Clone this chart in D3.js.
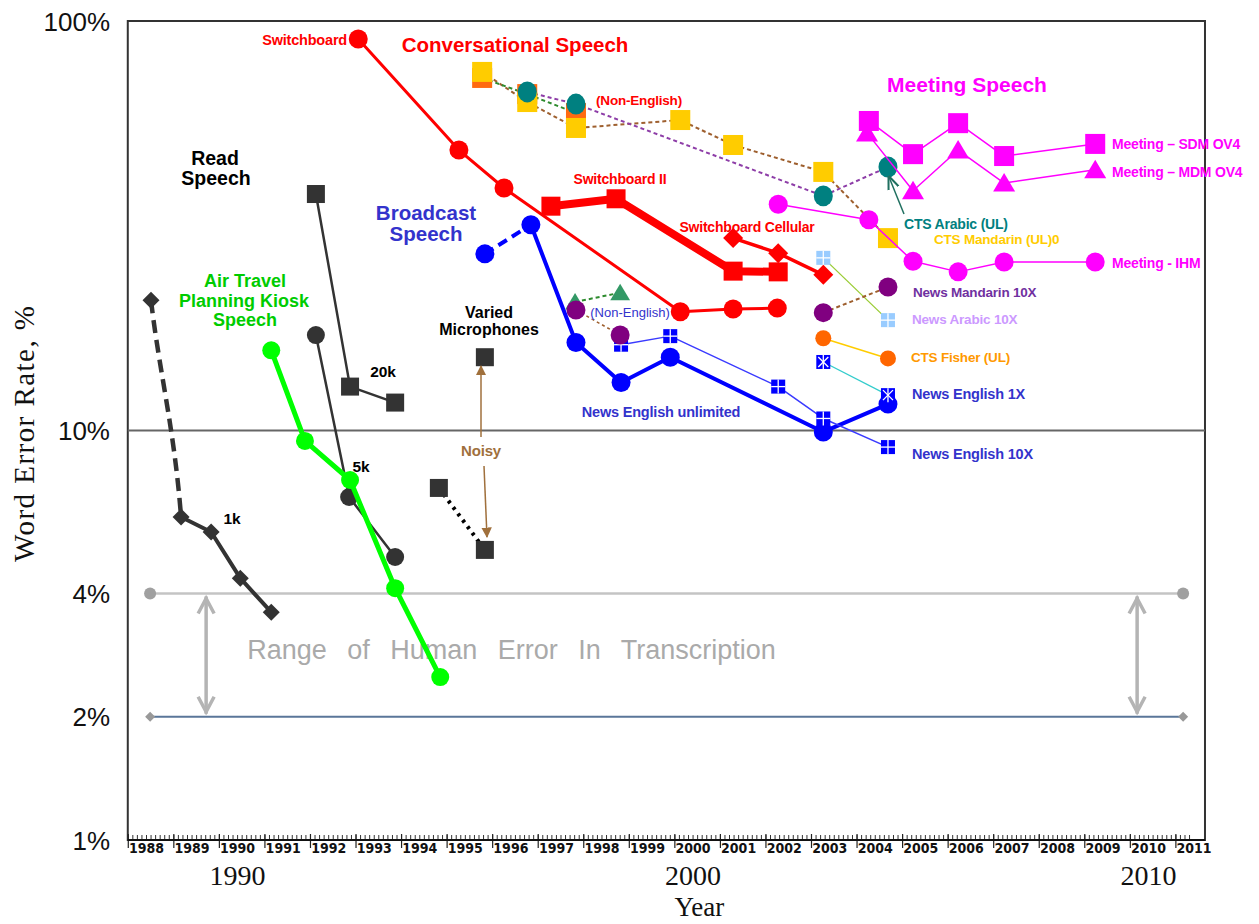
<!DOCTYPE html>
<html><head><meta charset="utf-8">
<script src="https://cdn.jsdelivr.net/npm/d3@7"></script>
<style>
body{margin:0;background:#fff}
svg{display:block}
.lbl{font-family:"Liberation Sans",Arial,sans-serif;font-weight:bold}
</style>
</head><body>
<svg id="c" width="1259" height="924"></svg>
<script>
// ================= DATA (year, word error rate %) =================
const yearLabels = d3.range(1988, 2012);
const bigYearLabels = [1990, 2000, 2010];
const yTickValues = [1, 2, 4, 10, 100];
const humanErrorRange = [2, 4];

// Read speech
const read1k = [[1988.11,20.8],[1988.77,6.15],[1989.43,5.65],[1990.07,4.36],[1990.75,3.6]];
const read5k = [[1991.73,17.1],[1992.46,6.88],[1993.47,4.91]];
const read20k = [[1991.73,37.8],[1992.48,12.8],[1993.47,11.7]];
const variedMic = [[1995.44,15.1]];
const noisy = [[1994.43,7.24],[1995.44,5.11]];
// Air travel planning kiosk
const atis = [[1990.75,15.7],[1991.49,9.43],[1992.48,7.57],[1993.47,4.12],[1994.46,2.5]];
// Conversational speech
const switchboard = [[1992.66,90.4],[1994.87,48.4],[1995.86,39.1],[1999.73,19.5],[2000.89,19.8],[2001.86,19.9]];
const switchboard2 = [[1996.89,35.3],[1998.32,36.8],[2000.89,24.5],[2001.88,24.4]];
const swbCellular = [[2000.89,29.5],[2001.88,27.1],[2002.87,24.0]];
const ctsYellow = [[1995.38,75.1],[1996.37,63.4],[1997.44,54.8],[1999.73,57.3],[2000.89,49.8],[2002.87,42.8],[2004.29,29.5]];
const ctsOrange = [[1995.38,72.6],[1996.37,66.3],[1997.44,59.6]];
const ctsTeal = [[1996.37,67.1],[1997.44,62.7],[2002.87,37.4],[2004.29,44.0]];
// Broadcast speech
const newsEngUnlimDashed = [[1995.44,27.0],[1996.45,31.8]];
const newsEngUnlim = [[1996.45,31.8],[1997.44,16.4],[1998.43,13.1],[1999.51,15.1],[2002.87,9.92],[2004.29,11.6]];
const newsEng10x = [[1998.43,16.2],[1999.51,17.0],[2001.88,12.8],[2002.87,10.7],[2004.29,9.11]];
const newsEng1x = [[2002.87,14.7],[2004.29,12.2]];
const ctsFisher = [[2002.87,16.8],[2004.29,15.0]];
const newsArabic10x = [[2002.87,26.4],[2004.29,18.6]];
const newsMandarin10x = [[2002.87,19.4],[2004.29,22.4]];
const bnNonEngPurple = [[1997.44,19.7],[1998.41,17.1]];
const bnNonEngGreen = [[1997.42,20.6],[1998.41,21.7]];
// Meeting speech
const meetingSDM = [[2003.87,57.0],[2004.84,47.3],[2005.83,56.3],[2006.84,46.8],[2008.84,50.1]];
const meetingMDM = [[2003.83,53.3],[2004.84,38.5],[2005.83,48.4],[2006.84,40.2],[2008.84,43.3]];
const meetingIHM = [[2001.88,35.7],[2003.87,32.7],[2004.84,25.9],[2005.83,24.4],[2006.84,25.8],[2008.84,25.8]];

// ================= CHART =================
const svg = d3.select('#c');
const x = d3.scaleLinear().domain([1988, 2011]).range([146, 1193.6]);
const y = d3.scaleLog().domain([1, 100]).range([840, 21]);
const X0 = x(1987.6), X1 = x(2011.25), YT = y(100), YB = y(1);
const line = d3.line().x(d => x(d[0])).y(d => y(d[1]));

// frame
svg.append('rect').attr('x', X0).attr('y', YT).attr('width', X1 - X0).attr('height', YB - YT)
  .attr('fill', 'none').attr('stroke', '#333').attr('stroke-width', 2);
// 10% line
svg.append('line').attr('x1', X0).attr('x2', X1).attr('y1', y(10)).attr('y2', y(10))
  .attr('stroke', '#666').attr('stroke-width', 2);

// Human error range
const hx0 = x(1988.09), hx1 = x(2010.77);
svg.append('line').attr('x1', hx0).attr('x2', hx1).attr('y1', y(humanErrorRange[1])).attr('y2', y(humanErrorRange[1]))
  .attr('stroke', '#c4c4c4').attr('stroke-width', 2.5);
svg.append('line').attr('x1', hx0).attr('x2', hx1).attr('y1', y(humanErrorRange[0])).attr('y2', y(humanErrorRange[0]))
  .attr('stroke', '#5a7699').attr('stroke-width', 2);
[hx0, hx1].forEach(px => {
  svg.append('circle').attr('cx', px).attr('cy', y(humanErrorRange[1])).attr('r', 6).attr('fill', '#a0a0a0');
  const cy = y(humanErrorRange[0]);
  svg.append('path').attr('d', `M${px},${cy-5}L${px+5},${cy}L${px},${cy+5}L${px-5},${cy}Z`).attr('fill', '#999');
});
[x(1989.32), x(2009.76)].forEach(px => {
  const a = y(humanErrorRange[1]) + 3, b = y(humanErrorRange[0]) - 3;
  const g = svg.append('g').attr('stroke', '#b4b4b4').attr('stroke-width', 3.5).attr('fill', 'none');
  g.append('line').attr('x1', px).attr('x2', px).attr('y1', a).attr('y2', b);
  g.append('path').attr('d', `M${px-8},${a+17}L${px},${a+2}L${px+8},${a+17}`);
  g.append('path').attr('d', `M${px-8},${b-17}L${px},${b-2}L${px+8},${b-17}`);
});
svg.append('text').attr('x', 511.5).attr('y', 650).attr('text-anchor', 'middle').attr('dominant-baseline', 'central')
  .attr('font-family', '"Liberation Sans",Arial,sans-serif').attr('font-size', 27).attr('word-spacing', 13)
  .attr('fill', '#aaaaaa').text('Range of Human Error In Transcription');

// ---- axes ----
const minor = d3.range(0, 234).map(i => 1987.6 + i * 0.1).filter(v => v < 2011.2);
const major = yearLabels.map(v => v - 0.4);
const axG = svg.append('g').attr('transform', `translate(0,${YB})`);
axG.append('g').call(d3.axisBottom(x).tickValues(minor).tickSize(-5).tickFormat(''))
  .call(g => g.select('.domain').remove())
  .call(g => g.selectAll('line').attr('stroke', '#333').attr('stroke-width', 1));
axG.append('g').call(d3.axisBottom(x).tickValues(major).tickSize(8).tickFormat(''))
  .call(g => g.select('.domain').remove())
  .call(g => g.selectAll('line').attr('stroke', '#222').attr('stroke-width', 1.2).attr('y1', -6));
axG.append('line').attr('x1', X0).attr('x2', X1).attr('stroke', '#111').attr('stroke-width', 2);
axG.append('g').call(d3.axisBottom(x).tickValues(yearLabels).tickSize(0).tickPadding(3).tickFormat(d3.format('d')))
  .call(g => g.select('.domain').remove())
  .call(g => g.selectAll('text').attr('font-family', '"Liberation Sans Narrow","Arial Narrow","DejaVu Sans Condensed",sans-serif')
    .attr('font-stretch', 'condensed').attr('font-weight', 'bold').attr('font-size', 14).attr('fill', '#111'));
// Big serif year labels
svg.append('g').attr('transform', `translate(0,${YB + 25})`)
  .call(d3.axisBottom(x).tickValues(bigYearLabels).tickSize(0).tickPadding(0).tickFormat(d3.format('d')))
  .call(g => g.select('.domain').remove())
  .call(g => g.selectAll('text').attr('font-family', '"Liberation Serif","Times New Roman",serif')
    .attr('font-size', 28).attr('fill', '#111'));
svg.append('text').attr('x', x(2000.15)).attr('y', 907).attr('text-anchor', 'middle').attr('dominant-baseline', 'central')
  .attr('font-family', '"Liberation Serif",serif').attr('font-size', 27).attr('fill', '#111').text('Year');

// y axis
svg.append('g').attr('transform', 'translate(110,0)')
  .call(d3.axisLeft(y).tickValues(yTickValues).tickSize(0).tickPadding(0).tickFormat(d => d + '%'))
  .call(g => g.select('.domain').remove())
  .call(g => g.selectAll('text').attr('font-family', '"Liberation Sans",Arial,sans-serif').attr('font-size', 26)
    .attr('fill', '#111').attr('dy', '0.35em'));
svg.append('text').attr('transform', 'translate(24,434) rotate(-90)').attr('text-anchor', 'middle')
  .attr('dominant-baseline', 'central').attr('font-family', '"Liberation Serif",serif').attr('font-size', 29)
  .attr('textLength', 256).attr('lengthAdjust', 'spacing').attr('fill', '#111').text('Word Error Rate, %');

// ---- marker helper ----
function marker(g, type, cx, cy, s, fill) {
  if (type === 'circle') g.append('circle').attr('cx', cx).attr('cy', cy).attr('r', s).attr('fill', fill);
  else if (type === 'ellipse') g.append('ellipse').attr('cx', cx).attr('cy', cy).attr('rx', s).attr('ry', s * 1.1).attr('fill', fill);
  else if (type === 'square') g.append('rect').attr('x', cx - s).attr('y', cy - s).attr('width', 2 * s).attr('height', 2 * s).attr('fill', fill);
  else if (type === 'diamond') g.append('path').attr('d', `M${cx},${cy-s}L${cx+s},${cy}L${cx},${cy+s}L${cx-s},${cy}Z`).attr('fill', fill);
  else if (type === 'triangle') g.append('path').attr('d', `M${cx},${cy-s}L${cx+s*1.1},${cy+s*0.85}L${cx-s*1.1},${cy+s*0.85}Z`).attr('fill', fill);
  else if (type === 'grid' || type === 'xgrid') {
    g.append('rect').attr('x', cx - s).attr('y', cy - s).attr('width', 2 * s).attr('height', 2 * s).attr('fill', fill);
    const w = g.append('g').attr('stroke', '#fff').attr('stroke-width', 1.3);
    w.append('line').attr('x1', cx).attr('x2', cx).attr('y1', cy - s).attr('y2', cy + s);
    if (type === 'grid') w.append('line').attr('x1', cx - s).attr('x2', cx + s).attr('y1', cy).attr('y2', cy);
    else {
      w.append('line').attr('x1', cx - s + 2).attr('x2', cx + s - 2).attr('y1', cy - s + 2).attr('y2', cy + s - 2);
      w.append('line').attr('x1', cx - s + 2).attr('x2', cx + s - 2).attr('y1', cy + s - 2).attr('y2', cy - s + 2);
    }
  }
}
function series(data, o) {
  const g = svg.append('g');
  if (o.stroke && data.length > 1) {
    const p = g.append('path').attr('d', line(data)).attr('fill', 'none').attr('stroke', o.stroke)
      .attr('stroke-width', o.width || 2).attr('stroke-linejoin', 'round');
    if (o.dash) p.attr('stroke-dasharray', o.dash);
    if (o.cap) p.attr('stroke-linecap', o.cap);
  }
  if (o.marker) data.forEach(d => marker(g, o.marker, x(d[0]), y(d[1]), o.size, o.fill));
}

// ---- Read speech ----
{
  const p0 = [x(read1k[0][0]), y(read1k[0][1])], p1 = [x(read1k[1][0]), y(read1k[1][1])];
  svg.append('path').attr('d', `M${p0[0]},${p0[1]}C${p0[0]+8},${p0[1]+70} ${p1[0]-7},${p1[1]-90} ${p1[0]},${p1[1]}`)
    .attr('fill', 'none').attr('stroke', '#333').attr('stroke-width', 4.5).attr('stroke-dasharray', '13,7');
}
series(read1k.slice(1), {stroke: '#333', width: 4, marker: 'diamond', size: 8.5, fill: '#333'});
marker(svg, 'diamond', x(read1k[0][0]), y(read1k[0][1]), 8.5, '#333');
series(read5k, {stroke: '#333', width: 2.5, marker: 'circle', size: 9, fill: '#333'});
series(read20k, {stroke: '#333', width: 2.5, marker: 'square', size: 9, fill: '#333'});
series(variedMic, {marker: 'square', size: 9, fill: '#333'});
series(noisy, {stroke: '#000', width: 4, dash: '3,5', marker: 'square', size: 9, fill: '#333'});
series(atis, {stroke: '#00ff00', width: 5, marker: 'circle', size: 9, fill: '#00ff00'});

// ---- Conversational ----
series(switchboard, {stroke: '#ff0000', width: 3, marker: 'circle', size: 9.5, fill: '#ff0000'});
series(switchboard2, {stroke: '#ff0000', width: 8, marker: 'square', size: 9.5, fill: '#ff0000'});
series(swbCellular, {stroke: '#ff0000', width: 3.5, marker: 'diamond', size: 10, fill: '#ff0000'});
series(ctsYellow, {stroke: '#9e5f2e', width: 2, dash: '4,3'});
series(ctsOrange, {stroke: '#2e8b2e', width: 2, dash: '4,3'});
series(ctsTeal, {stroke: '#8e3ea8', width: 2, dash: '4,3'});
series(ctsOrange, {marker: 'square', size: 10, fill: '#ff6a10'});
series(ctsYellow, {marker: 'square', size: 10, fill: '#ffcc00'});
series(ctsTeal, {marker: 'ellipse', size: 9.5, fill: '#008080'});

// ---- Broadcast ----
series(newsEngUnlimDashed, {stroke: '#0000ff', width: 4, dash: '10,6'});
series(newsEngUnlim, {stroke: '#0000ff', width: 4, marker: 'circle', size: 9.5, fill: '#0000ff'});
series(newsEngUnlimDashed.slice(0, 1), {marker: 'circle', size: 9.5, fill: '#0000ff'});
series(newsEng10x, {stroke: '#3a3aff', width: 1.5, marker: 'grid', size: 7, fill: '#0000ff'});
series(newsEng1x, {stroke: '#33cccc', width: 1.3, marker: 'xgrid', size: 7, fill: '#0000ff'});
series(ctsFisher, {stroke: '#ffcc00', width: 1.6, marker: 'circle', size: 8, fill: '#ff6600'});
series(newsArabic10x, {stroke: '#99cc33', width: 1.3, marker: 'grid', size: 7, fill: '#99ccff'});
series(newsMandarin10x, {stroke: '#9e5f2e', width: 2, dash: '4,3', marker: 'circle', size: 9.5, fill: '#800080'});
series(bnNonEngGreen, {stroke: '#2e8b2e', width: 2, dash: '4,3', marker: 'triangle', size: 9, fill: '#339966'});
series(bnNonEngPurple, {stroke: '#9e5f2e', width: 1.5, dash: '3,3', marker: 'circle', size: 9.5, fill: '#800080'});

// ---- Meeting ----
series(meetingMDM, {stroke: '#ff00ff', width: 1.5, marker: 'triangle', size: 10, fill: '#ff00ff'});
series(meetingSDM, {stroke: '#ff00ff', width: 1.5, marker: 'square', size: 10, fill: '#ff00ff'});
series(meetingIHM, {stroke: '#ff00ff', width: 1.5, marker: 'circle', size: 9.5, fill: '#ff00ff'});

// ---- arrows ----
svg.append('defs').html(
  '<marker id="ab" viewBox="0 0 10 10" refX="9" refY="5" markerWidth="7" markerHeight="7" orient="auto-start-reverse"><path d="M0,0L10,5L0,10Z" fill="#a0703c"/></marker>' +
  '<marker id="at" viewBox="0 0 10 10" refX="9" refY="5" markerWidth="9" markerHeight="9" orient="auto"><path d="M0,1L10,5L0,9" fill="none" stroke="#207060" stroke-width="1.5"/></marker>');
svg.append('line').attr('x1', 481).attr('y1', 437).attr('x2', 481).attr('y2', 366).attr('stroke', '#a0703c').attr('stroke-width', 1.5).attr('marker-end', 'url(#ab)');
svg.append('line').attr('x1', 484).attr('y1', 466).attr('x2', 487).attr('y2', 537).attr('stroke', '#a0703c').attr('stroke-width', 1.5).attr('marker-end', 'url(#ab)');
svg.append('line').attr('x1', 904).attr('y1', 214).attr('x2', 889).attr('y2', 177).attr('stroke', '#207060').attr('stroke-width', 1.5).attr('marker-end', 'url(#at)');

// ---- text annotations (pixel layout) ----
const labels = [
  ['Switchboard', 347, 40, 'end', '#ff0000', 14.5],
  ['Conversational Speech', 515, 44, 'middle', '#ff0000', 20.5],
  ['(Non-English)', 639, 100, 'middle', '#ff0000', 13.5],
  ['Switchboard II', 620, 179, 'middle', '#ff0000', 14],
  ['Switchboard Cellular', 747, 227, 'middle', '#ff0000', 14],
  ['Meeting Speech', 967, 84, 'middle', '#ff00ff', 21],
  ['Meeting – SDM OV4', 1112, 144, 'start', '#ff00ff', 14],
  ['Meeting – MDM OV4', 1112, 172, 'start', '#ff00ff', 14],
  ['Meeting - IHM', 1112, 263, 'start', '#ff00ff', 14],
  ['CTS Arabic (UL)', 904, 224, 'start', '#008080', 14],
  ['CTS Mandarin  (UL)0', 934, 239, 'start', '#ffcc00', 13.5],
  ['News Mandarin 10X', 913, 292, 'start', '#7030a0', 13.5],
  ['News Arabic 10X', 912, 319, 'start', '#cc99ff', 13.5],
  ['CTS Fisher (UL)', 911, 357, 'start', '#ff9900', 13.5],
  ['News English  1X', 912, 394, 'start', '#3333cc', 14.5],
  ['News English  10X', 912, 454, 'start', '#3333cc', 14.5],
  ['Read', 215, 158, 'middle', '#000', 19.5],
  ['Speech', 216, 178, 'middle', '#000', 19.5],
  ['Broadcast', 426, 212, 'middle', '#3333cc', 20.5],
  ['Speech', 426, 233, 'middle', '#3333cc', 20.5],
  ['Air Travel', 245, 281, 'middle', '#00cc00', 18],
  ['Planning Kiosk', 244, 300.5, 'middle', '#00cc00', 18],
  ['Speech', 245, 320, 'middle', '#00cc00', 18],
  ['Varied', 489, 312, 'middle', '#000', 16],
  ['Microphones', 489, 329, 'middle', '#000', 16],
  ['20k', 383, 371, 'middle', '#000', 15.5],
  ['5k', 361, 466, 'middle', '#000', 15.5],
  ['1k', 232, 518, 'middle', '#000', 15.5],
  ['Noisy', 481, 450, 'middle', '#a0703c', 15],
  ['News English unlimited', 661, 412, 'middle', '#3333cc', 14.5]
];
svg.append('g').selectAll('text').data(labels).join('text').attr('class', 'lbl')
  .attr('x', d => d[1]).attr('y', d => d[2]).attr('text-anchor', d => d[3]).attr('dominant-baseline', 'central')
  .attr('fill', d => d[4]).attr('font-size', d => d[5]).attr('letter-spacing', d => d[5] < 16 ? -0.2 : 0).text(d => d[0]);
svg.append('text').attr('x', 630).attr('y', 312).attr('text-anchor', 'middle').attr('dominant-baseline', 'central')
  .attr('font-family', '"Liberation Sans",Arial,sans-serif').attr('font-size', 13).attr('fill', '#3333cc').text('(Non-English)');
</script>
</body></html>
